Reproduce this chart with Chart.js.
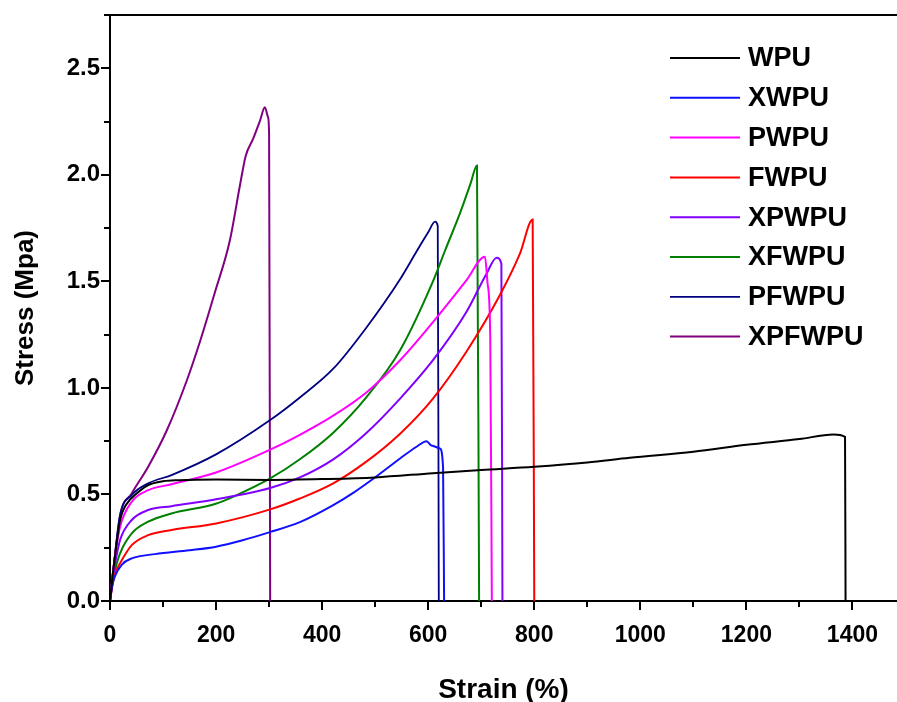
<!DOCTYPE html>
<html>
<head>
<meta charset="utf-8">
<script src="https://cdn.jsdelivr.net/npm/chart.js@4/dist/chart.umd.min.js"></script>
<style>
html,body{margin:0;padding:0;background:#fff;}
#wrap{width:897px;height:702px;position:relative;}
</style>
</head>
<body>
<div id="wrap"><canvas id="c" width="897" height="702"></canvas></div>
<script>
// ---- data (strain %, stress MPa) ----
const seriesNames = ['WPU','XWPU','PWPU','FWPU','XPWPU','XFWPU','PFWPU','XPFWPU'];
const seriesColors = ['#000000','#1010ff','#ff00ff','#ff0000','#8000ff','#008000','#000080','#800080'];
const seriesWidths = [2,2,2,2,2,2,1.8,2];

const wpuStrain = [0,5,10,19,30,53,72,100,130,200,300,400,500,609,700,800,900,980,1100,1200,1300,1364,1386,1387];
const wpuStress = [0,0.12,0.22,0.38,0.45,0.51,0.544,0.562,0.567,0.57,0.568,0.572,0.58,0.6,0.615,0.63,0.65,0.672,0.70,0.733,0.76,0.781,0.77,0];

const xwpuStrain = [0,4,9,22,41,85,150,200,250,300,358,421,460,497,547,578,597,606,622,628,630];
const xwpuStress = [0,0.07,0.114,0.17,0.2,0.22,0.238,0.255,0.285,0.322,0.37,0.45,0.51,0.575,0.669,0.724,0.75,0.73,0.716,0.63,0];

const pwpuStrain = [0,5,10,19,41,72,116,200,302,358,421,484,547,609,672,707,712,717,720];
const pwpuStress = [0,0.12,0.22,0.348,0.466,0.52,0.548,0.603,0.71,0.78,0.87,0.98,1.13,1.309,1.505,1.615,1.49,1.239,0];

const fwpuStrain = [0,5,10,19,41,72,116,200,302,358,421,484,547,609,672,735,773,797,800];
const fwpuStress = [0,0.08,0.13,0.177,0.262,0.309,0.333,0.364,0.43,0.481,0.552,0.655,0.785,0.95,1.17,1.435,1.63,1.79,0];

const xpwpuStrain = [0,5,10,19,41,72,116,200,302,358,421,484,547,609,672,710,729,738,740];
const xpwpuStress = [0,0.1,0.18,0.286,0.38,0.427,0.445,0.477,0.53,0.58,0.665,0.79,0.95,1.13,1.356,1.536,1.611,1.583,0];

const xfwpuStrain = [0,5,10,19,41,72,116,198,233,302,358,421,484,547,609,632,660,680,692,696];
const xfwpuStress = [0,0.09,0.15,0.224,0.317,0.372,0.411,0.455,0.49,0.575,0.665,0.79,0.958,1.177,1.5,1.646,1.82,1.96,2.044,0];

const pfwpuStrain = [0,5,10,19,41,72,116,200,302,358,421,484,547,578,600,613,618,620];
const pfwpuStress = [0,0.12,0.23,0.403,0.497,0.552,0.591,0.688,0.849,0.955,1.09,1.285,1.51,1.64,1.73,1.78,1.76,0];

const xpfwpuStrain = [0,5,10,19,41,72,107,145,170,198,226,245,256,270,283,292,298,300,302];
const xpfwpuStress = [0,0.12,0.23,0.403,0.505,0.63,0.80,1.036,1.22,1.45,1.692,1.95,2.09,2.17,2.255,2.317,2.27,2.19,0];

const xTickValues = [0,100,200,300,400,500,600,700,800,900,1000,1100,1200,1300,1400];
const yTickValues = [0,0.25,0.5,0.75,1,1.25,1.5,1.75,2,2.25,2.5,2.75];

const strainSets = [wpuStrain,xwpuStrain,pwpuStrain,fwpuStrain,xpwpuStrain,xfwpuStrain,pfwpuStrain,xpfwpuStrain];
const stressSets = [wpuStress,xwpuStress,pwpuStress,fwpuStress,xpwpuStress,xfwpuStress,pfwpuStress,xpfwpuStress];

const datasets = seriesNames.map((name,i)=>({
  label: name,
  data: strainSets[i].map((x,k)=>({x:x,y:stressSets[i][k]})),
  borderColor: seriesColors[i],
  backgroundColor: seriesColors[i],
  borderWidth: seriesWidths[i],
  showLine: true,
  pointRadius: 0,
  cubicInterpolationMode: 'monotone',
  fill: false
}));

const FONT = '"Liberation Sans", Arial, sans-serif';

const tickMarks = {
  id: 'tickMarks',
  afterDraw(chart){
    const ctx = chart.ctx, a = chart.chartArea;
    const xs = chart.scales.x, ys = chart.scales.y;
    ctx.save();
    ctx.strokeStyle = '#000';
    ctx.lineWidth = 2;
    ctx.beginPath();
    xTickValues.forEach(v=>{
      const px = Math.round(xs.getPixelForValue(v));
      const len = (v % 200 === 0) ? 9 : 6;
      ctx.moveTo(px, a.bottom); ctx.lineTo(px, a.bottom + len);
    });
    yTickValues.forEach(v=>{
      const py = Math.round(ys.getPixelForValue(v));
      const len = (Math.abs(v*2 - Math.round(v*2)) < 1e-6) ? 9 : 6;
      ctx.moveTo(a.left, py); ctx.lineTo(a.left - len, py);
    });
    ctx.moveTo(a.left - 1, a.top); ctx.lineTo(a.right, a.top);
    ctx.stroke();
    ctx.restore();
  }
};

const legendPlugin = {
  id: 'customLegend',
  afterDraw(chart){
    const ctx = chart.ctx, a = chart.chartArea;
    ctx.save();
    ctx.font = 'bold 27px ' + FONT;
    ctx.textBaseline = 'middle';
    ctx.textAlign = 'left';
    chart.data.datasets.forEach((ds,i)=>{
      const y = a.top + 43 + i*39.8;
      ctx.strokeStyle = ds.borderColor;
      ctx.lineWidth = ds.borderWidth;
      ctx.beginPath();
      ctx.moveTo(a.right - 227, y); ctx.lineTo(a.right - 157, y);
      ctx.stroke();
      ctx.fillStyle = '#000';
      ctx.fillText(ds.label, a.right - 149, y + 1);
    });
    ctx.restore();
  }
};

new Chart(document.getElementById('c'), {
  type: 'scatter',
  data: { datasets },
  options: {
    responsive: false,
    animation: false,
    devicePixelRatio: 1,
    layout: { padding: { top: 15, right: 0, left: 0, bottom: 0 } },
    plugins: { legend: { display: false }, tooltip: { enabled: false } },
    scales: {
      x: {
        type: 'linear', position: 'bottom', min: 0, max: 1484,
        grid: { display: true, drawOnChartArea: false, drawTicks: false },
        border: { display: true, color: '#000', width: 2 },
        afterBuildTicks: s => { s.ticks = xTickValues.map(v=>({value:v})); },
        afterFit: s => { s.height = 101; s.paddingLeft = 0; s.paddingRight = 0; },
        ticks: {
          autoSkip: false, maxRotation: 0, padding: 21, color: '#000',
          font: { family: FONT, size: 23, weight: 'bold' },
          callback: v => (v % 200 === 0 ? String(v) : '')
        },
        title: { display: true, text: 'Strain (%)', color: '#000',
          font: { family: FONT, size: 28, weight: 'bold', lineHeight: 1 },
          padding: { top: 0, bottom: -2 } }
      },
      y: {
        type: 'linear', position: 'left', min: 0, max: 2.75,
        grid: { display: true, drawOnChartArea: false, drawTicks: false },
        border: { display: true, color: '#000', width: 2 },
        afterBuildTicks: s => { s.ticks = yTickValues.map(v=>({value:v})); },
        afterFit: s => { s.width = 110; s.paddingTop = 0; s.paddingBottom = 0; },
        ticks: {
          autoSkip: false, padding: 10, color: '#000',
          font: { family: FONT, size: 24, weight: 'bold' },
          callback: v => (Math.abs(v*2 - Math.round(v*2)) < 1e-6 ? Number(v).toFixed(1) : '')
        },
        title: { display: true, text: 'Stress (Mpa)', color: '#000',
          font: { family: FONT, size: 26, weight: 'bold', lineHeight: 1 },
          padding: { top: 13, bottom: 0 } }
      }
    }
  },
  plugins: [tickMarks, legendPlugin]
});
</script>
</body>
</html>
